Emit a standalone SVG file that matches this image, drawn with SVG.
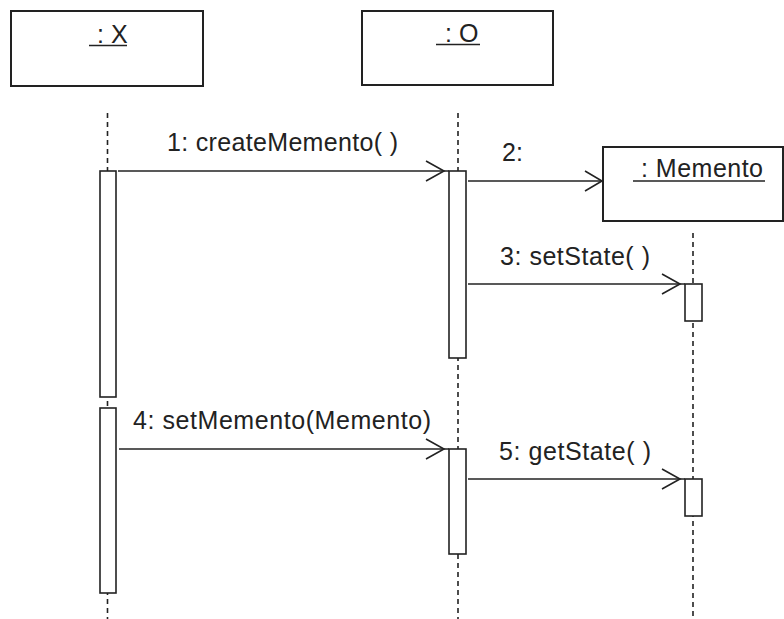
<svg xmlns="http://www.w3.org/2000/svg" width="784" height="619" viewBox="0 0 784 619">
<style>
.box{fill:#fff;stroke:#222;stroke-width:2}
.act{fill:#fff;stroke:#222;stroke-width:1.6}
.life{stroke:#222;stroke-width:1.6;stroke-dasharray:5 4;fill:none}
.ul{stroke:#222;stroke-width:1.6}
.msg{stroke:#222;stroke-width:1.6;fill:none}
.head{stroke:#222;stroke-width:1.6;fill:none}
text{font-family:"Liberation Sans",Arial,sans-serif;font-size:25px;fill:#222}
</style>
<rect width="784" height="619" fill="#fff"/>
<g id="node-X">
<line class="life" x1="107.5" y1="113" x2="107.5" y2="619"/>
<rect class="box" x="11" y="11" width="192" height="75"/>
<text x="97" y="43">: X</text>
<line class="ul" x1="89" y1="45.5" x2="127" y2="45.5"/>
<rect class="act" x="100" y="171" width="16" height="226"/>
<rect class="act" x="100" y="408" width="16" height="185"/>
</g>
<g id="node-O">
<line class="life" x1="458" y1="113" x2="458" y2="619"/>
<rect class="box" x="362" y="11" width="191" height="74"/>
<text x="445" y="42">: O</text>
<line class="ul" x1="436" y1="44.5" x2="480" y2="44.5"/>
<rect class="act" x="449" y="171" width="17" height="187"/>
<rect class="act" x="449" y="449" width="17" height="105"/>
</g>
<g id="node-Memento">
<line class="life" x1="693" y1="233" x2="693" y2="619"/>
<rect class="box" x="603" y="147" width="180" height="74"/>
<text x="641" y="177" textLength="122" lengthAdjust="spacing">: Memento</text>
<line class="ul" x1="633" y1="181" x2="765" y2="181"/>
<rect class="act" x="685" y="284" width="17" height="37"/>
<rect class="act" x="685" y="479" width="17" height="37"/>
</g>
<g id="connectors">
<line class="msg" x1="118" y1="171" x2="449" y2="171"/>
<polyline class="head" points="426,161 444,171 426,181"/>
<text x="167" y="151" textLength="231" lengthAdjust="spacing">1: createMemento( )</text>
<line class="msg" x1="468" y1="181" x2="603" y2="181"/>
<polyline class="head" points="585,171 602,181 585,191"/>
<text x="502" y="161">2:</text>
<line class="msg" x1="468" y1="284" x2="685" y2="284"/>
<polyline class="head" points="662,274 680,284 662,294"/>
<text x="500" y="265" textLength="150" lengthAdjust="spacing">3: setState( )</text>
<line class="msg" x1="119" y1="449" x2="449" y2="449"/>
<polyline class="head" points="426,439 444,449 426,459"/>
<text x="133" y="429" textLength="298" lengthAdjust="spacing">4: setMemento(Memento)</text>
<line class="msg" x1="468" y1="479" x2="685" y2="479"/>
<polyline class="head" points="662,469 680,479 662,489"/>
<text x="499" y="460" textLength="152" lengthAdjust="spacing">5: getState( )</text>
</g>
</svg>
